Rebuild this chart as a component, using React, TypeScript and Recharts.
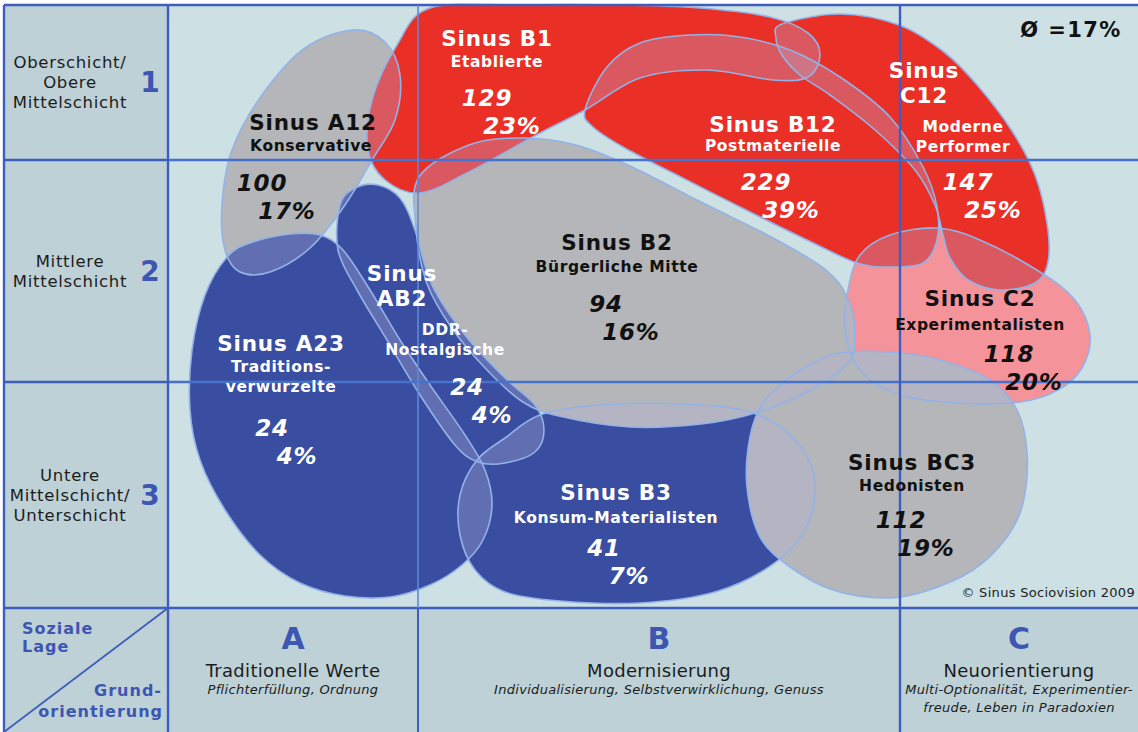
import { ScatterChart, Scatter, XAxis, YAxis, ReferenceLine, ReferenceArea } from "recharts";

// chart frame: left column = Y axis, bottom row = X axis
const CHART_W = 1138;
const CHART_H = 732;
const Y_AXIS_W = 168;
const X_AXIS_H = 124;
const X_DOMAIN: [number, number] = [0, 970];
const Y_DOMAIN: [number, number] = [0, 608];
const KX = (CHART_W - Y_AXIS_W) / (X_DOMAIN[1] - X_DOMAIN[0]);
const KY = (CHART_H - X_AXIS_H) / (Y_DOMAIN[1] - Y_DOMAIN[0]);
const FRAME_LEFT = X_DOMAIN[0] - (Y_AXIS_W - 4) / KX;
const FRAME_BOTTOM = Y_DOMAIN[1] + X_AXIS_H / KY;

const FONT = "'DejaVu Sans', Verdana, sans-serif";

// grid: Soziale Lage (rows) x Grundorientierung (columns)
const rowBounds = [5, 160, 382, 608];
const rowNumbers = ["1", "2", "3"];
const rowLabels = [
  ["Oberschicht/", "Obere", "Mittelschicht"],
  ["Mittlere", "Mittelschicht"],
  ["Untere", "Mittelschicht/", "Unterschicht"],
];
const colBounds = [0, 250, 732, 970];
const colLetters = ["A", "B", "C"];
const colTitles = ["Traditionelle Werte", "Modernisierung", "Neuorientierung"];
const colNotes = [
  ["Pflichterfüllung, Ordnung"],
  ["Individualisierung, Selbstverwirklichung, Genuss"],
  ["Multi-Optionalität, Experimentier-", "freude, Leben in Paradoxien"],
];
const averageLabel = "Ø =17%";
const sourceLabel = "© Sinus Sociovision 2009";

// milieus, in drawing order
const milieuCodes = ["C2", "B12", "C12", "B3", "BC3", "B2", "A12", "B1", "A23", "AB2"];
const milieuNames = [
  "Experimentalisten",
  "Postmaterielle",
  "Moderne\nPerformer",
  "Konsum-Materialisten",
  "Hedonisten",
  "Bürgerliche Mitte",
  "Konservative",
  "Etablierte",
  "Traditions-\nverwurzelte",
  "DDR-\nNostalgische",
];
const milieuCounts = [118, 229, 147, 41, 112, 94, 100, 129, 24, 24];
const milieuShares = [20, 39, 25, 7, 19, 16, 17, 23, 4, 4];
const milieuTones = ["pink", "red", "red", "blue", "gray", "gray", "gray", "red", "blue", "blue"];
const milieuOutlines: [number, number][][] = [
  [[680, 290], [692, 255], [722, 235], [769, 228], [812, 240], [872, 272], [907, 300], [922, 335], [914, 368], [890, 390], [852, 402], [792, 403], [732, 395], [692, 370], [677, 330]],
  [[417, 110], [439, 67], [472, 43], [522, 35], [572, 37], [622, 50], [672, 77], [722, 117], [755, 167], [769, 207], [769, 240], [755, 263], [722, 267], [689, 263], [639, 240], [572, 207], [505, 173], [455, 147], [425, 127]],
  [[614, 24], [672, 14], [731, 25], [776, 52], [810, 86], [844, 131], [867, 175], [879, 223], [880, 262], [867, 283], [832, 290], [800, 280], [782, 258], [775, 235], [767, 205], [747, 170], [707, 130], [662, 95], [632, 75], [614, 55], [608, 38]],
  [[309, 460], [337, 438], [372, 415], [432, 405], [512, 404], [582, 412], [627, 440], [647, 482], [637, 530], [604, 565], [547, 592], [472, 603], [392, 601], [337, 592], [307, 570], [292, 535], [292, 495]],
  [[672, 353], [722, 352], [772, 360], [822, 380], [849, 410], [859, 453], [855, 503], [839, 537], [805, 570], [755, 592], [715, 598], [665, 590], [622, 567], [592, 537], [579, 487], [582, 437], [595, 403], [622, 377], [645, 363]],
  [[251, 177], [301, 145], [355, 138], [408, 145], [462, 166], [533, 202], [605, 238], [658, 270], [680, 299], [687, 334], [680, 363], [641, 391], [587, 413], [533, 424], [462, 427], [391, 416], [355, 402], [319, 370], [283, 327], [258, 281], [248, 227]],
  [[185, 30], [217, 42], [232, 75], [227, 120], [204, 160], [177, 205], [142, 248], [102, 272], [72, 272], [57, 250], [54, 205], [64, 150], [94, 95], [137, 48]],
  [[262, 8], [352, 5], [452, 5], [532, 8], [602, 17], [640, 33], [652, 55], [640, 77], [605, 80], [539, 70], [472, 78], [417, 110], [372, 133], [299, 173], [252, 193], [217, 180], [200, 150], [204, 100], [229, 45]],
  [[59, 257], [82, 243], [122, 234], [152, 235], [175, 250], [202, 290], [232, 340], [262, 385], [297, 435], [317, 470], [324, 505], [315, 540], [294, 565], [262, 585], [222, 597], [177, 596], [132, 583], [92, 555], [57, 510], [32, 460], [22, 410], [24, 350], [37, 295]],
  [[172, 205], [187, 188], [210, 185], [232, 198], [247, 230], [264, 285], [297, 335], [337, 378], [367, 405], [376, 430], [367, 452], [337, 463], [310, 462], [287, 445], [252, 395], [219, 340], [189, 290], [170, 250]],
];

// where the texts of each milieu sit (data units)
const LABEL_AT: Record<string, { name: [number, number]; sub: [number, number]; value: [number, number]; split?: boolean }> = {
  C2: { name: [812, 298], sub: [812, 325], value: [841, 354] },
  B12: { name: [605, 124], sub: [605, 146], value: [598, 182] },
  C12: { name: [756, 70], sub: [795, 127], value: [800, 182], split: true },
  B3: { name: [448, 492], sub: [448, 518], value: [436, 548] },
  BC3: { name: [744, 462], sub: [744, 486], value: [733, 520] },
  B2: { name: [449, 242], sub: [449, 267], value: [438, 304] },
  A12: { name: [145, 122], sub: [143, 146], value: [94, 183] },
  B1: { name: [329, 38], sub: [329, 62], value: [319, 98] },
  A23: { name: [113, 343], sub: [113, 367], value: [104, 428] },
  AB2: { name: [234, 273], sub: [277, 330], value: [299, 387], split: true },
};
const AVERAGE_AT: [number, number] = [903, 30];
const SOURCE_AT: [number, number] = [967, 592];

const TONE_FILL: Record<string, string> = {
  red: "#ea2f27",
  blue: "#3a4ea1",
  gray: "#b4b6b9",
  pink: "#f4939a",
};
const OVERLAP_TINT = "#b8b0d6";
const OUTLINE = "#93b3e8";
const FRAME_BLUE = "#3f5dbd";
const FIELD_BLUE = "#4672cc";
const AXIS_BLUE = "#3d56b2";

const blobData = milieuCodes.map((code, i) => ({
  code,
  index: i,
  tone: milieuTones[i],
  outline: milieuOutlines[i],
  x: milieuOutlines[i][0][0],
  y: milieuOutlines[i][0][1],
}));

const labelRows = [
  ...milieuCodes.flatMap((code, i) => {
    const at = LABEL_AT[code];
    const color = milieuTones[i] === "gray" || milieuTones[i] === "pink" ? "#111" : "#fff";
    const titles = at.split ? ["Sinus", code] : [`Sinus ${code}`];
    const subs = milieuNames[i].split("\n");
    return [
      ...titles.map((t, k) => ({ x: at.name[0], y: at.name[1], dx: 0, dy: k * 25, text: t, kind: "title", color })),
      ...subs.map((t, k) => ({ x: at.sub[0], y: at.sub[1], dx: 0, dy: k * 20, text: t, kind: "sub", color })),
      { x: at.value[0], y: at.value[1], dx: 0, dy: 0, text: String(milieuCounts[i]), kind: "count", color },
      { x: at.value[0], y: at.value[1], dx: 25, dy: 28, text: `${milieuShares[i]}%`, kind: "count", color },
    ];
  }),
  { x: AVERAGE_AT[0], y: AVERAGE_AT[1], dx: 0, dy: 0, text: averageLabel, kind: "note", color: "#111" },
  { x: SOURCE_AT[0], y: SOURCE_AT[1], dx: 0, dy: 0, text: sourceLabel, kind: "source", color: "#222" },
];

const TEXT_STYLE: Record<string, { size: number; weight: number; spacing: number; italic?: boolean; anchor?: string }> = {
  title: { size: 21.5, weight: 700, spacing: 0.8 },
  sub: { size: 15.5, weight: 700, spacing: 0.6 },
  count: { size: 23, weight: 700, spacing: 0.8, italic: true },
  note: { size: 21, weight: 700, spacing: 1.4 },
  source: { size: 13, weight: 400, spacing: 0.3, anchor: "end" },
};

const rowCenters = rowBounds.slice(1).map((b, i) => (rowBounds[i] + b) / 2);
const colCenters = colBounds.slice(1).map((b, i) => (colBounds[i] + b) / 2);

// grid segments: [x1, y1, x2, y2, colour, width]
type Seg = [number, number, number, number, string, number];
const gridSegments: Seg[] = [
  [FRAME_LEFT, rowBounds[0], X_DOMAIN[1], rowBounds[0], FRAME_BLUE, 2.5],
  [FRAME_LEFT, rowBounds[3], X_DOMAIN[1], rowBounds[3], FRAME_BLUE, 2.5],
  ...rowBounds.slice(1, 3).flatMap((b): Seg[] => [
    [FRAME_LEFT, b, colBounds[0], b, FRAME_BLUE, 2.5],
    [colBounds[0], b, X_DOMAIN[1], b, FIELD_BLUE, 2.5],
  ]),
  [FRAME_LEFT, rowBounds[0], FRAME_LEFT, FRAME_BOTTOM, FRAME_BLUE, 2.4],
  [colBounds[0], rowBounds[0], colBounds[0], FRAME_BOTTOM, FRAME_BLUE, 2.4],
  [colBounds[1], rowBounds[0], colBounds[1], rowBounds[3], "#5b8ad6", 1.6],
  [colBounds[1], rowBounds[3], colBounds[1], FRAME_BOTTOM, FRAME_BLUE, 2],
  [colBounds[2], rowBounds[0], colBounds[2], FRAME_BOTTOM, FRAME_BLUE, 2.4],
  [FRAME_LEFT, FRAME_BOTTOM, colBounds[0], rowBounds[3], FRAME_BLUE, 1.8],
];

function smoothPath(pts: number[][]) {
  const n = pts.length;
  let d = `M${pts[0][0].toFixed(1)},${pts[0][1].toFixed(1)}`;
  for (let i = 0; i < n; i++) {
    const p0 = pts[(i - 1 + n) % n];
    const p1 = pts[i];
    const p2 = pts[(i + 1) % n];
    const p3 = pts[(i + 2) % n];
    const c1x = p1[0] + (p2[0] - p0[0]) / 6;
    const c1y = p1[1] + (p2[1] - p0[1]) / 6;
    const c2x = p2[0] - (p3[0] - p1[0]) / 6;
    const c2y = p2[1] - (p3[1] - p1[1]) / 6;
    d += ` C${c1x.toFixed(1)},${c1y.toFixed(1)} ${c2x.toFixed(1)},${c2y.toFixed(1)} ${p2[0].toFixed(1)},${p2[1].toFixed(1)}`;
  }
  return d + " Z";
}

function blobPath(props: any) {
  const p = props.payload;
  const pts = p.outline.map(([x, y]: [number, number]) => [props.cx + (x - p.x) * KX, props.cy + (y - p.y) * KY]);
  return smoothPath(pts);
}

function BlobFill(props: any) {
  const p = props.payload;
  const d = blobPath(props);
  return (
    <g>
      <clipPath id={`milieu-${p.code}`}>
        <path d={d} />
      </clipPath>
      <path d={d} fill={TONE_FILL[p.tone]} />
      {blobData.slice(0, p.index).map((b) => (
        <path key={b.code} d={d} fill={OVERLAP_TINT} fillOpacity={0.32} clipPath={`url(#milieu-${b.code})`} />
      ))}
    </g>
  );
}

function BlobOutline(props: any) {
  return <path d={blobPath(props)} fill="none" stroke={OUTLINE} strokeWidth={1.6} />;
}

function LabelShape(props: any) {
  const r = props.payload;
  const st = TEXT_STYLE[r.kind];
  return (
    <text
      x={props.cx + r.dx}
      y={props.cy + r.dy}
      textAnchor={(st.anchor as any) ?? "middle"}
      dominantBaseline="central"
      fill={r.color}
      style={{
        fontFamily: FONT,
        fontSize: st.size,
        fontWeight: st.weight,
        letterSpacing: st.spacing,
        fontStyle: st.italic ? "italic" : "normal",
      }}
    >
      {r.text}
    </text>
  );
}

function RowTick(props: any) {
  const { x, y, payload } = props;
  const i = rowCenters.findIndex((c) => Math.abs(c - payload.value) < 0.01);
  if (i < 0) return null;
  const lines = rowLabels[i];
  return (
    <g>
      {lines.map((t, k) => (
        <text
          key={k}
          x={x - 98}
          y={y + (k - (lines.length - 1) / 2) * 20}
          textAnchor="middle"
          dominantBaseline="central"
          fill="#1c1c1c"
          style={{ fontFamily: FONT, fontSize: 16.5, letterSpacing: 0.7 }}
        >
          {t}
        </text>
      ))}
      <text
        x={x - 18}
        y={y}
        textAnchor="middle"
        dominantBaseline="central"
        fill={AXIS_BLUE}
        style={{ fontFamily: FONT, fontSize: 28, fontWeight: 700 }}
      >
        {rowNumbers[i]}
      </text>
    </g>
  );
}

function ColumnTick(props: any) {
  const { x, y, payload } = props;
  const cornerStyle = { fontFamily: FONT, fontSize: 16, fontWeight: 700, letterSpacing: 1 };
  if (Math.abs(payload.value - colBounds[0]) < 0.01) {
    return (
      <g fill={AXIS_BLUE}>
        <text x={x - 146} y={y + 20} dominantBaseline="central" style={cornerStyle}>Soziale</text>
        <text x={x - 146} y={y + 38} dominantBaseline="central" style={cornerStyle}>Lage</text>
        <text x={x - 6} y={y + 82} textAnchor="end" dominantBaseline="central" style={cornerStyle}>Grund-</text>
        <text x={x - 5} y={y + 103} textAnchor="end" dominantBaseline="central" style={cornerStyle}>orientierung</text>
      </g>
    );
  }
  const i = colCenters.findIndex((c) => Math.abs(c - payload.value) < 0.01);
  if (i < 0) return null;
  return (
    <g>
      <text x={x} y={y + 30} textAnchor="middle" dominantBaseline="central" fill={AXIS_BLUE} style={{ fontFamily: FONT, fontSize: 30, fontWeight: 700 }}>
        {colLetters[i]}
      </text>
      <text x={x} y={y + 62} textAnchor="middle" dominantBaseline="central" fill="#1c1c1c" style={{ fontFamily: FONT, fontSize: 18, letterSpacing: 0.3 }}>
        {colTitles[i]}
      </text>
      {colNotes[i].map((t, k) => (
        <text
          key={k}
          x={x}
          y={y + 81 + k * 18}
          textAnchor="middle"
          dominantBaseline="central"
          fill="#1c1c1c"
          style={{ fontFamily: FONT, fontSize: 13, fontStyle: "italic", letterSpacing: 0.3 }}
        >
          {t}
        </text>
      ))}
    </g>
  );
}

export default function App() {
  return (
    <div style={{ position: "absolute", left: 0, top: 0, width: CHART_W, height: CHART_H, background: "#fff" }}>
      <ScatterChart width={CHART_W} height={CHART_H} margin={{ top: 0, right: 0, bottom: 0, left: 0 }}>
        {/* backgrounds: label column + bottom row, then the plot field */}
        <ReferenceArea x1={FRAME_LEFT} x2={X_DOMAIN[1]} y1={rowBounds[0]} y2={FRAME_BOTTOM} fill="#bdd1d7" fillOpacity={1} stroke="none" ifOverflow="visible" zIndex={50} />
        <ReferenceArea x1={colBounds[0]} x2={colBounds[3]} y1={rowBounds[0]} y2={rowBounds[3]} fill="#cde0e3" fillOpacity={1} stroke="none" ifOverflow="visible" zIndex={51} />
        <XAxis
          type="number"
          dataKey="x"
          domain={X_DOMAIN}
          ticks={[colBounds[0], ...colCenters]}
          interval={0}
          tick={<ColumnTick />}
          tickSize={0}
          tickMargin={0}
          axisLine={false}
          tickLine={false}
          height={X_AXIS_H}
        />
        <YAxis
          type="number"
          dataKey="y"
          domain={Y_DOMAIN}
          reversed
          ticks={rowCenters}
          interval={0}
          tick={<RowTick />}
          tickSize={0}
          tickMargin={0}
          axisLine={false}
          tickLine={false}
          width={Y_AXIS_W}
        />
        <Scatter data={blobData} shape={<BlobFill />} isAnimationActive={false} zIndex={600} />
        <Scatter data={blobData} shape={<BlobOutline />} isAnimationActive={false} zIndex={610} />
        {gridSegments.map(([x1, y1, x2, y2, color, width], i) => (
          <ReferenceLine
            key={`g${i}`}
            segment={[{ x: x1, y: y1 }, { x: x2, y: y2 }]}
            stroke={color}
            strokeWidth={width}
            ifOverflow="visible"
            zIndex={700}
          />
        ))}
        <Scatter data={labelRows} shape={<LabelShape />} isAnimationActive={false} zIndex={800} />
      </ScatterChart>
    </div>
  );
}
